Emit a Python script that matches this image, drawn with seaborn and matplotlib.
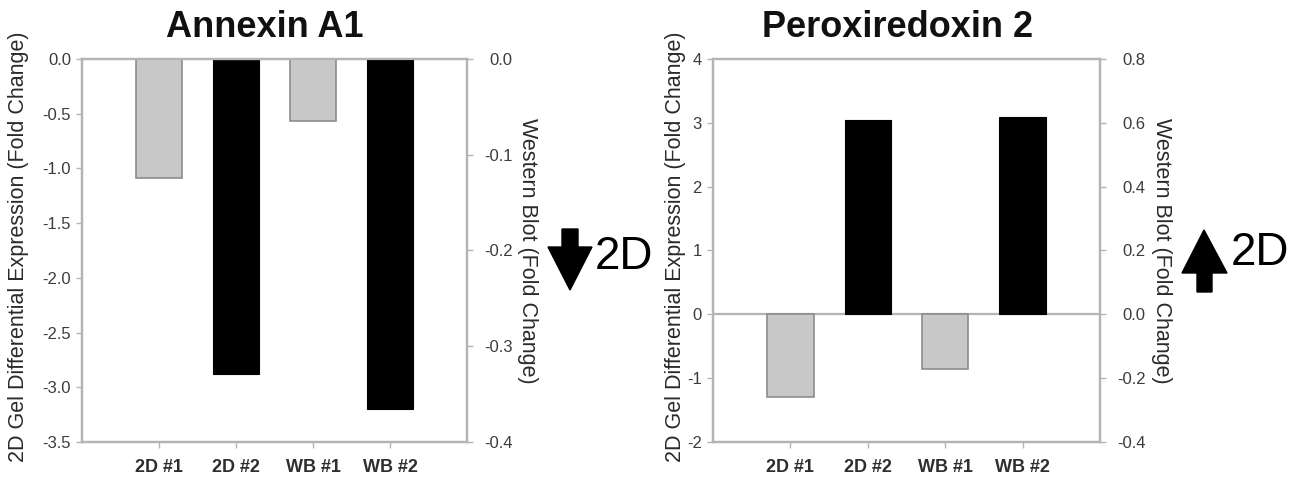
import numpy as np
import pandas as pd
import matplotlib
matplotlib.use("Agg")
import matplotlib.pyplot as plt
import seaborn as sns
from matplotlib.patches import Polygon
from matplotlib.ticker import FormatStrFormatter, MultipleLocator

# ---------------- data ----------------
categories = ["2D #1", "2D #2", "WB #1", "WB #2"]
gel_labels = ["2D #1", "2D #2"]
wb_labels = ["WB #1", "WB #2"]

annexin_gel = [-1.09, -2.88]      # left axis (2D gel fold change)
annexin_wb = [-0.065, -0.366]     # right axis (western blot fold change)
prx_gel = [-1.29, 3.05]
prx_wb = [-0.172, 0.618]

titles = ["Annexin A1", "Peroxiredoxin 2"]
left_label = "2D Gel Differential Expression (Fold Change)"
right_label = "Western Blot (Fold Change)"
arrow_text = "2D"

# ---------------- style ----------------
sns.set_theme(style="white")
plt.rcParams["font.family"] = ["Liberation Sans", "DejaVu Sans"]
plt.rcParams["axes.unicode_minus"] = False

GRAY = "#c8c8c8"
EDGE_GRAY = "#8c8c8c"
SPINE = "#b4b4b4"
TXT = "#3c3c3c"
palette = {"2D #1": GRAY, "2D #2": "black", "WB #1": GRAY, "WB #2": "black"}

fig = plt.figure(figsize=(13.08, 4.83), dpi=100)

panels = [
    dict(pos=[0.0627, 0.0849, 0.2943, 0.793], gel=annexin_gel, wb=annexin_wb,
         ylim=(-3.5, 0.0), ystep=0.5, yfmt="%.1f",
         y2lim=(-0.4, 0.0), y2step=0.1, title=titles[0],
         lab_l=-0.165, lab_r=1.158, zero=False),
    dict(pos=[0.5451, 0.0849, 0.2959, 0.793], gel=prx_gel, wb=prx_wb,
         ylim=(-2.0, 4.0), ystep=1.0, yfmt="%d",
         y2lim=(-0.4, 0.8), y2step=0.2, title=titles[1],
         lab_l=-0.098, lab_r=1.16, zero=True),
]

for p in panels:
    ax = fig.add_axes(p["pos"])
    sns.barplot(x=gel_labels, y=p["gel"], order=categories, hue=gel_labels,
                palette=palette, legend=False, width=0.6, ax=ax, zorder=2)
    ax2 = ax.twinx()
    sns.barplot(x=wb_labels, y=p["wb"], order=categories, hue=wb_labels,
                palette=palette, legend=False, width=0.6, ax=ax2, zorder=2)
    for a in (ax, ax2):
        for patch in a.patches:
            fc = patch.get_facecolor()
            if fc[0] > 0.5:
                patch.set_edgecolor(EDGE_GRAY)
                patch.set_linewidth(1.2)
            else:
                patch.set_edgecolor("black")
                patch.set_linewidth(0.8)

    ax.set_xlim(-1, 4)
    ax.set_ylim(*p["ylim"])
    ax2.set_ylim(*p["y2lim"])
    ax.yaxis.set_major_locator(MultipleLocator(p["ystep"]))
    ax.yaxis.set_major_formatter(FormatStrFormatter(p["yfmt"]))
    ax2.yaxis.set_major_locator(MultipleLocator(p["y2step"]))
    ax2.yaxis.set_major_formatter(FormatStrFormatter("%.1f"))
    ax.set_xticks(range(len(categories)))
    ax.set_xticklabels(categories)

    if p["zero"]:
        ax.axhline(0, color=SPINE, lw=1.6, zorder=1)

    for a in (ax, ax2):
        for s in a.spines.values():
            s.set_color(SPINE)
            s.set_linewidth(1.6)
            s.set_visible(True)

    ax.tick_params(axis="y", left=True, direction="out", length=4, width=1,
                   color=SPINE, labelsize=12, labelcolor=TXT, pad=4)
    ax.tick_params(axis="x", bottom=True, direction="out", length=4, width=1,
                   color=SPINE, labelsize=13, labelcolor="#2e2e2e", pad=8)
    for t in ax.get_xticklabels():
        t.set_fontweight("bold")
    ax2.tick_params(axis="y", right=True, direction="out", length=4, width=1,
                    color=SPINE, labelsize=12, labelcolor=TXT, pad=29)
    for t in ax2.get_yticklabels():
        t.set_ha("right")

    ax.set_xlabel("")
    ax.set_ylabel(left_label, fontsize=15.5, color="#2a2a2a", rotation=90,
                  va="center", ha="center")
    ax.yaxis.set_label_coords(p["lab_l"], 0.51)
    ax2.set_ylabel(right_label, fontsize=15.5, color="#2a2a2a", rotation=270,
                   va="center", ha="center")
    ax2.yaxis.set_label_coords(p["lab_r"], 0.5)

    ax.set_title(p["title"], fontsize=26, fontweight="bold", color="#111111",
                 x=0.476, pad=16)

# ---------------- arrows with "2D" ----------------
W, H = 1308.0, 483.0
def to_fig(pts):
    return [(x / W, 1 - y / H) for x, y in pts]

down_arrow = [(562, 229), (578, 229), (578, 247), (592, 247), (570, 290),
              (548, 247), (562, 247)]
up_arrow = [(1204, 230), (1227, 273), (1212, 273), (1212, 292), (1197, 292),
            (1197, 273), (1182, 273)]
for poly in (down_arrow, up_arrow):
    fig.patches.append(Polygon(to_fig(poly), closed=True, facecolor="black",
                               edgecolor="black", transform=fig.transFigure))

fig.text(595 / W, 1 - 257 / H, arrow_text, fontsize=33, color="black",
         ha="left", va="center")
fig.text(1231 / W, 1 - 253 / H, arrow_text, fontsize=33, color="black",
         ha="left", va="center")

fig.savefig("out.png", dpi=100)
